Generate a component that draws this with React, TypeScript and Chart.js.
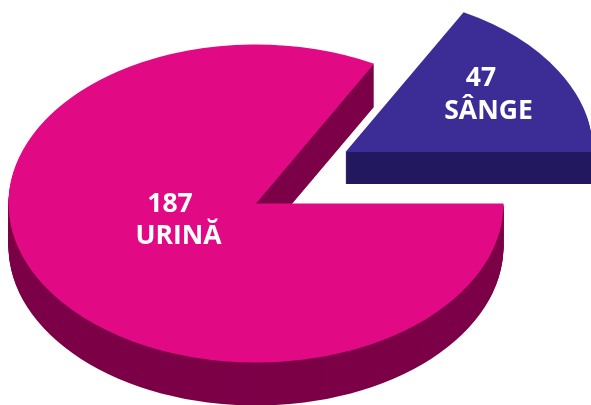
import React, { useEffect, useRef } from "react";
import { Chart, registerables } from "chart.js";

Chart.register(...registerables);

// Printed counts, as they appear on the slices.
const categories = ["SÂNGE", "URINĂ"];
const printedCounts = [47, 187];
// Visible slice sweep in degrees. The reference's wedge is
// narrower than 47/234 of a circle, so the drawn angles do not follow the counts.
const sliceSweepDegrees = [61.5, 298.5];

const topColors = ["#3C2D96", "#E20A84"];
const wallColors = ["#21185F", "#7C0047"];

const WIDTH = 591;
const HEIGHT = 405;
const RADIUS_X = 247.5;
const RADIUS_Y = 159;
const sliceCenters = [
  { x: 345.5, y: 152, depth: 32 },
  { x: 256, y: 203.5, depth: 43 },
];
const labelAnchors = [
  { x: 481, xName: 488.5, yCount: 78.5, yName: 111.5 },
  { x: 170, xName: 178.5, yCount: 204.5, yName: 236.5 },
];

const pie3d = {
  id: "pie3d",
  beforeDatasetDraw(chart: any) {
    const ctx = chart.ctx;
    const arcs = chart.getDatasetMeta(0).data;
    const place = (arc: any, i: number, dy: number) => {
      const c = sliceCenters[i];
      const r = arc.outerRadius;
      ctx.translate(c.x, c.y + dy);
      ctx.scale(RADIUS_X / r, RADIUS_Y / r);
      ctx.translate(-arc.x, -arc.y);
    };
    [1, 0].forEach((i) => {
      const arc = arcs[i];
      for (let d = sliceCenters[i].depth; d >= 1; d--) {
        ctx.save();
        place(arc, i, d);
        ctx.beginPath();
        ctx.moveTo(arc.x, arc.y);
        ctx.arc(arc.x, arc.y, arc.outerRadius, arc.startAngle, arc.endAngle);
        ctx.closePath();
        ctx.fillStyle = wallColors[i];
        ctx.fill();
        ctx.restore();
      }
      ctx.save();
      place(arc, i, 0);
      arc.draw(ctx);
      ctx.restore();
    });
    return false;
  },
  afterDatasetsDraw(chart: any) {
    const ctx = chart.ctx;
    ctx.save();
    ctx.fillStyle = "#FFFFFF";
    ctx.font = 'bold 26.5px "Open Sans"';
    ctx.textAlign = "center";
    ctx.textBaseline = "middle";
    categories.forEach((name, i) => {
      const a = labelAnchors[i];
      ctx.fillText(String(printedCounts[i]), a.x, a.yCount);
      ctx.fillText(name, a.xName, a.yName);
    });
    ctx.restore();
  },
};

export default function App() {
  const ref = useRef<HTMLCanvasElement>(null);
  useEffect(() => {
    const chart = new Chart(ref.current!, {
      type: "pie",
      data: {
        labels: categories,
        datasets: [
          {
            data: sliceSweepDegrees,
            backgroundColor: topColors,
            borderWidth: 0,
          },
        ],
      },
      options: {
        animation: false,
        responsive: false,
        rotation: 28.5,
        layout: { padding: 0 },
        plugins: { legend: { display: false }, tooltip: { enabled: false } },
      },
      plugins: [pie3d],
    } as any);
    return () => chart.destroy();
  }, []);
  return (
    <div style={{ position: "fixed", left: 0, top: 0, width: WIDTH, height: HEIGHT, background: "#fff" }}>
      <canvas ref={ref} width={WIDTH} height={HEIGHT} style={{ display: "block" }} />
    </div>
  );
}
